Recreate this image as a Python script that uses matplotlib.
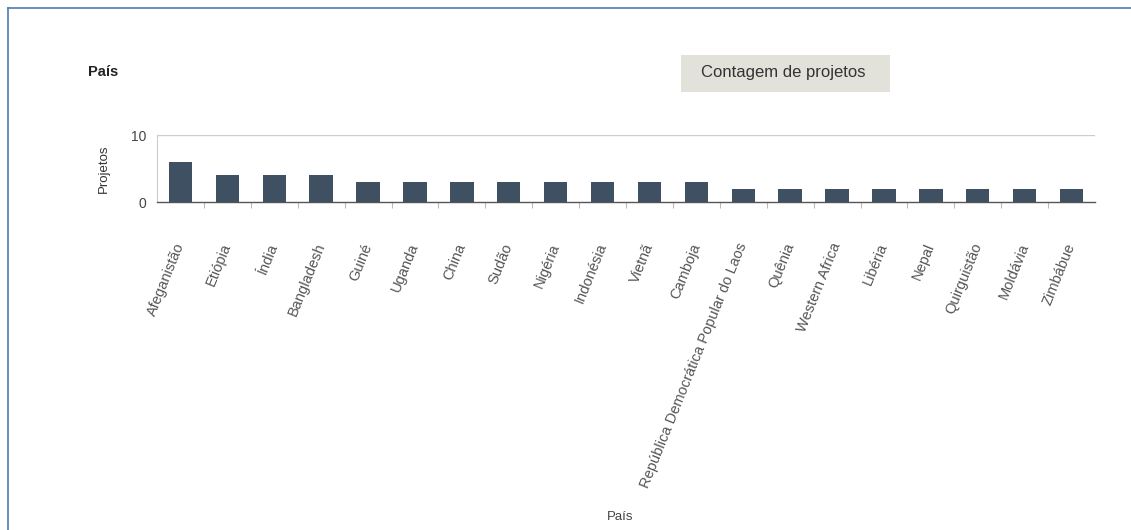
import numpy as np
import matplotlib.pyplot as plt
from matplotlib.patches import Rectangle
from matplotlib.lines import Line2D

plt.rcParams['font.family'] = ['Liberation Sans', 'DejaVu Sans']

paises = ['Afeganistão', 'Etiópia', 'Índia', 'Bangladesh', 'Guiné', 'Uganda',
          'China', 'Sudão', 'Nigéria', 'Indonésia', 'Vietnã', 'Camboja',
          'República Democrática Popular do Laos', 'Quênia', 'Western Africa',
          'Libéria', 'Nepal', 'Quirguistão', 'Moldávia', 'Zimbábue']
projetos = [6, 4, 4, 4, 3, 3, 3, 3, 3, 3, 3, 3, 2, 2, 2, 2, 2, 2, 2, 2]
y_ticks = [0, 10]

W, H = 1131, 530
fig = plt.figure(figsize=(W / 100, H / 100), dpi=100, facecolor='white')

# thin blue frame along top and left edges
fig.add_artist(Line2D([8 / W, 1], [1 - 8 / H, 1 - 8 / H], transform=fig.transFigure,
                      color='#4f7ab3', lw=1.2))
fig.add_artist(Line2D([8 / W, 8 / W], [0, 1 - 8 / H], transform=fig.transFigure,
                      color='#4f7ab3', lw=1.2))

ax = fig.add_axes([157 / W, 1 - 202 / H, 938 / W, 67 / H])
x = np.arange(len(paises))
ax.bar(x, projetos, width=0.5, color='#3f5063', zorder=3)

ax.set_xlim(-0.5, len(paises) - 0.5)
ax.set_ylim(0, 10)
ax.set_yticks(y_ticks)
ax.set_yticklabels([str(v) for v in y_ticks], fontsize=10, color='#444444')
ax.tick_params(axis='y', length=0, pad=8)

ax.set_xticks(x)
ax.set_xticklabels(paises, rotation=68, ha='right', va='center',
                   rotation_mode='anchor', fontsize=10.5, color='#555555')
ax.tick_params(axis='x', length=0, pad=30)
ax.set_xticks(x[:-1] + 0.5, minor=True)
ax.tick_params(axis='x', which='minor', length=4, color='#bbbbbb', width=0.8)

ax.axhline(10, color='#cccccc', lw=1, zorder=1)
for side in ['top', 'right']:
    ax.spines[side].set_visible(False)
ax.spines['left'].set_color('#cccccc')
ax.spines['bottom'].set_color('#555555')
ax.spines['bottom'].set_linewidth(1.0)
ax.set_ylabel('Projetos', fontsize=9.5, color='#333333', labelpad=15)

fig.text(88 / W, 1 - 72 / H, 'País', fontsize=10.5, fontweight='bold',
         color='#222222', va='center', ha='left')

# series label box
fig.add_artist(Rectangle((681 / W, 1 - 92 / H), 209 / W, 37 / H,
                         transform=fig.transFigure, facecolor='#e2e2da',
                         edgecolor='none'))
fig.text(783 / W, 1 - 73 / H, 'Contagem de projetos', fontsize=12,
         color='#333333', ha='center', va='center')

fig.text(620 / W, 1 - 517 / H, 'País', fontsize=9.5, color='#444444',
         ha='center', va='center')

fig.savefig('out.png', dpi=100, facecolor='white')
